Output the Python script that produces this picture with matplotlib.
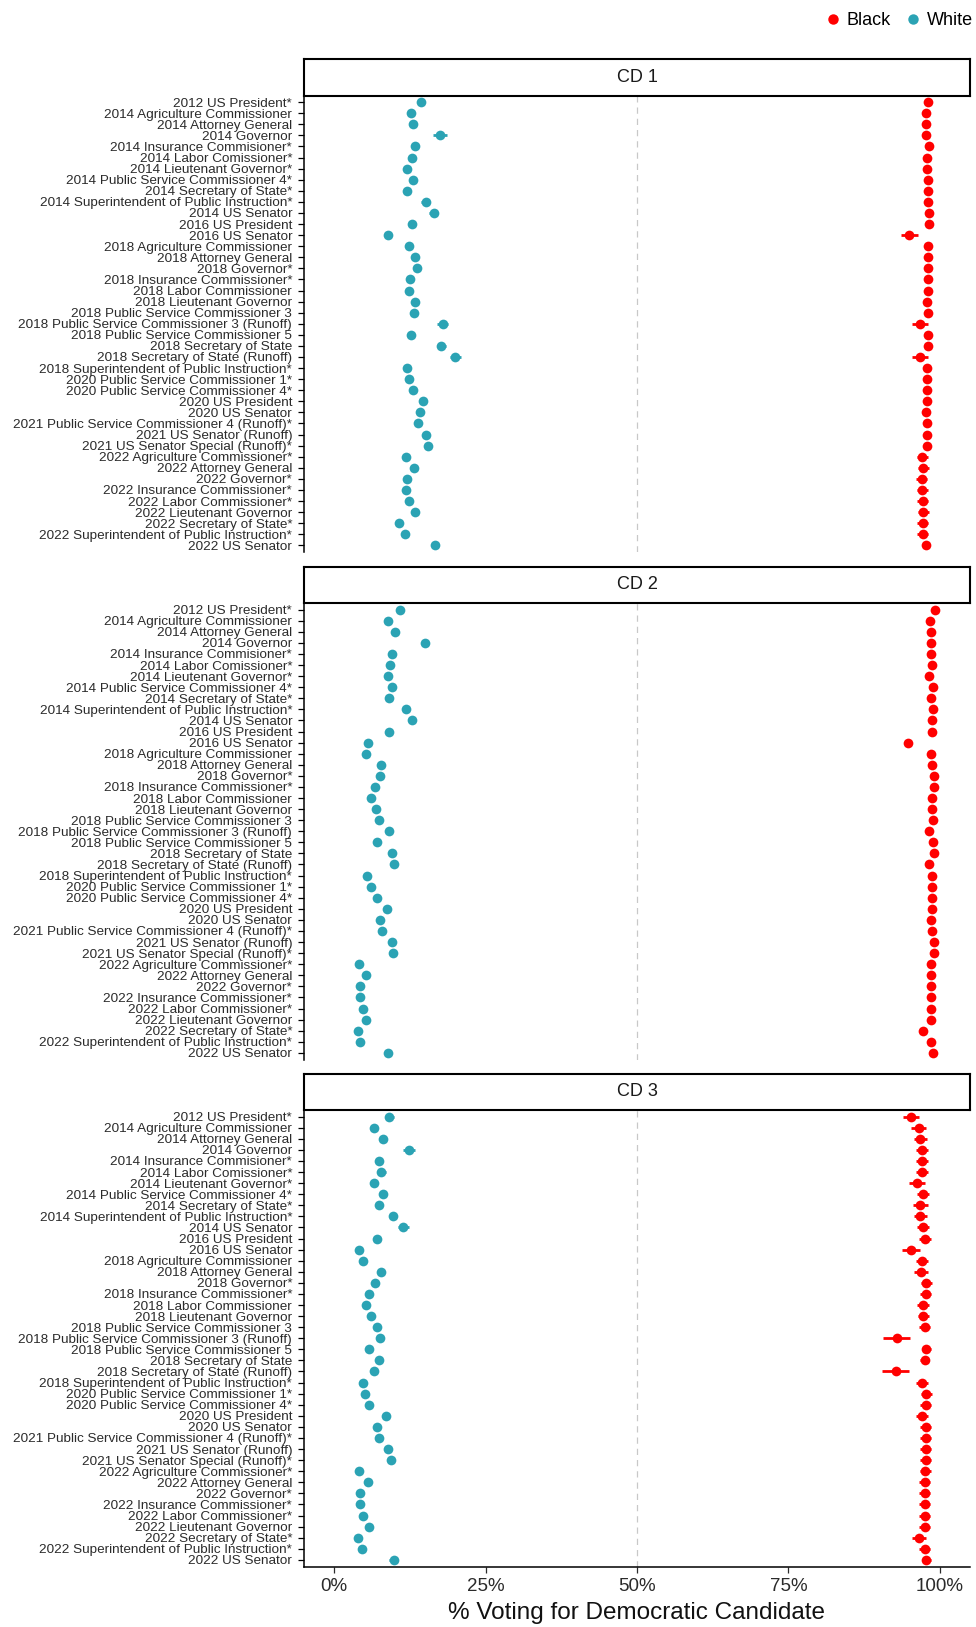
import matplotlib
matplotlib.use("Agg")
import matplotlib.pyplot as plt
from matplotlib.lines import Line2D

plt.rcParams['font.family'] = ['Liberation Sans', 'DejaVu Sans']

races = [
    "2012 US President*",
    "2014 Agriculture Commissioner",
    "2014 Attorney General",
    "2014 Governor",
    "2014 Insurance Commisioner*",
    "2014 Labor Comissioner*",
    "2014 Lieutenant Governor*",
    "2014 Public Service Commissioner 4*",
    "2014 Secretary of State*",
    "2014 Superintendent of Public Instruction*",
    "2014 US Senator",
    "2016 US President",
    "2016 US Senator",
    "2018 Agriculture Commissioner",
    "2018 Attorney General",
    "2018 Governor*",
    "2018 Insurance Commissioner*",
    "2018 Labor Commissioner",
    "2018 Lieutenant Governor",
    "2018 Public Service Commissioner 3",
    "2018 Public Service Commissioner 3 (Runoff)",
    "2018 Public Service Commissioner 5",
    "2018 Secretary of State",
    "2018 Secretary of State (Runoff)",
    "2018 Superintendent of Public Instruction*",
    "2020 Public Service Commissioner 1*",
    "2020 Public Service Commissioner 4*",
    "2020 US President",
    "2020 US Senator",
    "2021 Public Service Commissioner 4 (Runoff)*",
    "2021 US Senator (Runoff)",
    "2021 US Senator Special (Runoff)*",
    "2022 Agriculture Commissioner*",
    "2022 Attorney General",
    "2022 Governor*",
    "2022 Insurance Commissioner*",
    "2022 Labor Commissioner*",
    "2022 Lieutenant Governor",
    "2022 Secretary of State*",
    "2022 Superintendent of Public Instruction*",
    "2022 US Senator",
]
districts = ["CD 1", "CD 2", "CD 3"]

# estimated % voting for the Democratic candidate, one value per race
white_cd1 = [14.4, 12.6, 13.0, 17.5, 13.3, 12.8, 12.0, 13.0, 12.0, 15.1,
             16.4, 12.8, 8.8, 12.4, 13.3, 13.6, 12.5, 12.3, 13.4, 13.1,
             17.9, 12.6, 17.7, 20.0, 12.0, 12.3, 13.0, 14.6, 14.2, 13.8,
             15.1, 15.4, 11.8, 13.2, 12.0, 11.9, 12.3, 13.4, 10.7, 11.7, 16.6]
black_cd1 = [98.1, 97.7, 97.8, 97.8, 98.2, 97.9, 97.9, 98.1, 98.1, 98.1,
             98.2, 98.2, 95.0, 98.1, 98.1, 98.1, 98.1, 98.1, 97.9, 98.1,
             96.8, 98.1, 98.1, 96.7, 97.9, 97.9, 97.9, 97.9, 97.8, 97.9,
             97.9, 97.9, 97.1, 97.3, 97.0, 97.1, 97.2, 97.3, 97.2, 97.2, 97.7]

white_cd2 = [10.8, 8.8, 10.1, 15.0, 9.5, 9.2, 8.8, 9.6, 9.0, 11.9,
             12.8, 9.1, 5.6, 5.3, 7.8, 7.6, 6.7, 6.0, 6.9, 7.4,
             9.1, 7.1, 9.5, 9.9, 5.4, 6.1, 7.1, 8.7, 7.6, 7.9,
             9.6, 9.7, 4.1, 5.2, 4.3, 4.3, 4.7, 5.3, 4.0, 4.3, 8.9]
black_cd2 = [99.2, 98.4, 98.6, 98.6, 98.6, 98.8, 98.3, 98.9, 98.6, 98.9,
             98.8, 98.8, 94.7, 98.5, 98.8, 99.0, 99.0, 98.7, 98.8, 98.9,
             98.2, 98.9, 99.0, 98.2, 98.8, 98.8, 98.8, 98.8, 98.6, 98.8,
             99.0, 99.0, 98.6, 98.6, 98.6, 98.6, 98.6, 98.5, 97.3, 98.6, 98.9]

white_cd3 = [9.1, 6.5, 8.1, 12.3, 7.4, 7.8, 6.5, 8.1, 7.4, 9.7,
             11.4, 7.1, 4.1, 4.8, 7.8, 6.7, 5.8, 5.3, 6.1, 7.0,
             7.6, 5.8, 7.4, 6.5, 4.7, 5.0, 5.8, 8.5, 7.0, 7.4,
             8.8, 9.4, 4.1, 5.6, 4.3, 4.3, 4.7, 5.8, 4.0, 4.5, 9.8]
black_cd3 = [95.3, 96.5, 96.8, 97.0, 97.0, 97.1, 96.3, 97.3, 96.8, 96.8,
             97.3, 97.5, 95.3, 97.0, 96.9, 97.8, 97.7, 97.3, 97.3, 97.5,
             92.9, 97.8, 97.5, 92.7, 97.1, 97.8, 97.7, 97.1, 97.7, 97.7,
             97.7, 97.7, 97.6, 97.5, 97.5, 97.5, 97.5, 97.5, 96.6, 97.5, 97.8]

# half-width of each interval, in percentage points
white_err_cd1 = [0.6, 0.6, 0.6, 1.2, 0.6, 0.6, 0.6, 0.6, 0.6, 0.7,
                 0.7, 0.6, 0.6, 0.6, 0.6, 0.6, 0.6, 0.6, 0.6, 0.6,
                 0.9, 0.6, 0.8, 0.9, 0.6, 0.6, 0.6, 0.6, 0.6, 0.6,
                 0.6, 0.6, 0.6, 0.6, 0.6, 0.6, 0.6, 0.6, 0.6, 0.6, 0.7]
black_err_cd1 = [0.6, 0.6, 0.6, 0.6, 0.6, 0.6, 0.6, 0.6, 0.6, 0.6,
                 0.6, 0.6, 1.4, 0.6, 0.6, 0.6, 0.6, 0.6, 0.6, 0.6,
                 1.3, 0.6, 0.6, 1.3, 0.6, 0.6, 0.6, 0.6, 0.6, 0.6,
                 0.6, 0.6, 0.9, 0.9, 0.9, 0.9, 0.9, 0.9, 0.9, 0.9, 0.7]
white_err_cd2 = [0.5, 0.5, 0.5, 0.7, 0.5, 0.5, 0.5, 0.5, 0.5, 0.5,
                 0.5, 0.5, 0.5, 0.5, 0.5, 0.5, 0.5, 0.5, 0.5, 0.5,
                 0.5, 0.5, 0.5, 0.5, 0.5, 0.5, 0.5, 0.5, 0.5, 0.5,
                 0.5, 0.5, 0.5, 0.5, 0.5, 0.5, 0.5, 0.5, 0.5, 0.5, 0.5]
black_err_cd2 = [0.5, 0.5, 0.5, 0.5, 0.5, 0.5, 0.5, 0.5, 0.5, 0.5,
                 0.5, 0.5, 0.6, 0.5, 0.5, 0.5, 0.5, 0.5, 0.5, 0.5,
                 0.5, 0.5, 0.5, 0.5, 0.5, 0.5, 0.5, 0.5, 0.5, 0.5,
                 0.5, 0.5, 0.5, 0.5, 0.5, 0.5, 0.5, 0.5, 0.6, 0.5, 0.5]
white_err_cd3 = [0.8, 0.6, 0.6, 1.0, 0.6, 0.7, 0.6, 0.6, 0.6, 0.7,
                 0.9, 0.6, 0.6, 0.6, 0.6, 0.6, 0.6, 0.6, 0.6, 0.6,
                 0.6, 0.6, 0.6, 0.6, 0.6, 0.6, 0.6, 0.6, 0.6, 0.6,
                 0.6, 0.6, 0.6, 0.6, 0.6, 0.6, 0.6, 0.6, 0.6, 0.6, 0.7]
black_err_cd3 = [1.3, 1.2, 1.1, 1.0, 1.0, 1.0, 1.3, 1.0, 1.2, 1.1,
                 1.0, 1.0, 1.5, 1.0, 1.1, 0.9, 0.9, 1.0, 0.9, 0.9,
                 2.2, 0.8, 0.8, 2.3, 1.0, 0.9, 0.9, 1.0, 0.9, 0.9,
                 0.9, 0.9, 0.9, 0.9, 0.9, 0.9, 0.9, 0.9, 1.2, 0.9, 0.8]

x_ticks = [0, 25, 50, 75, 100]
x_tick_labels = ["0%", "25%", "50%", "75%", "100%"]

white_by_cd = [white_cd1, white_cd2, white_cd3]
black_by_cd = [black_cd1, black_cd2, black_cd3]
white_err_by_cd = [white_err_cd1, white_err_cd2, white_err_cd3]
black_err_by_cd = [black_err_cd1, black_err_cd2, black_err_cd3]

black_color = "#ff0000"
white_color = "#2ba3b4"
text_color = "#2b2b2b"

W, H = 976, 1627
fig = plt.figure(figsize=(W / 100, H / 100), dpi=100)


def px_box(left, top, right, bottom):
    # pixel box (from top-left) -> figure fraction rect
    return [left / W, 1 - bottom / H, (right - left) / W, (bottom - top) / H]


x_left, x_right = 304, 970
panel_tops = [95.5, 603, 1110]
panel_h = 456.5
strip_h = 36.5
rows = list(range(len(races)))

for i, cd in enumerate(districts):
    top = panel_tops[i]
    ax = fig.add_axes(px_box(x_left, top, x_right, top + panel_h))
    ax.axvline(50, color="#c8c8c8", lw=0.9, ls=(0, (5, 4)), zorder=0)
    ax.errorbar(black_by_cd[i], rows, xerr=black_err_by_cd[i], fmt="o",
                color=black_color, ms=7, mew=0, elinewidth=2, capsize=0, zorder=3)
    ax.errorbar(white_by_cd[i], rows, xerr=white_err_by_cd[i], fmt="o",
                color=white_color, ms=7, mew=0, elinewidth=2, capsize=0, zorder=3)

    ax.set_xlim(-5, 105)
    ax.set_ylim(len(races) - 1 + 0.6, -0.6)
    ax.set_yticks(rows)
    ax.set_yticklabels(races, fontsize=9.7, color=text_color)
    ax.tick_params(axis="y", length=4.2, width=0.9, pad=4.3, color="black")
    for side in ["top", "right"]:
        ax.spines[side].set_visible(False)
    ax.spines["left"].set_linewidth(1.1)

    if i == len(districts) - 1:
        ax.set_xticks(x_ticks)
        ax.set_xticklabels(x_tick_labels, fontsize=13.5, color=text_color)
        ax.tick_params(axis="x", length=4.2, width=0.9, pad=4, color=text_color)
        ax.spines["bottom"].set_linewidth(1.1)
        ax.set_xlabel("% Voting for Democratic Candidate", fontsize=17.5,
                      color="#111111", labelpad=5)
    else:
        ax.set_xticks([])
        ax.spines["bottom"].set_visible(False)

    # facet strip
    strip = fig.add_axes(px_box(x_left, top - strip_h, x_right, top))
    strip.set_xticks([])
    strip.set_yticks([])
    for sp in strip.spines.values():
        sp.set_linewidth(1.5)
        sp.set_color("black")
    strip.text(0.5, 0.5, cd, ha="center", va="center", fontsize=13,
               color="#1a1a1a", transform=strip.transAxes)

handles = [
    Line2D([], [], marker="o", ls="", color=black_color, ms=7.5, mew=0),
    Line2D([], [], marker="o", ls="", color=white_color, ms=7.5, mew=0),
]
fig.legend(handles, ["Black", "White"], loc="upper right",
           bbox_to_anchor=(973 / W, 1 - 12 / H), ncol=2, frameon=False,
           fontsize=13, handlelength=0.7, handletextpad=0.4,
           columnspacing=0.9, borderaxespad=0, borderpad=0)

fig.savefig("out.png", dpi=100)
